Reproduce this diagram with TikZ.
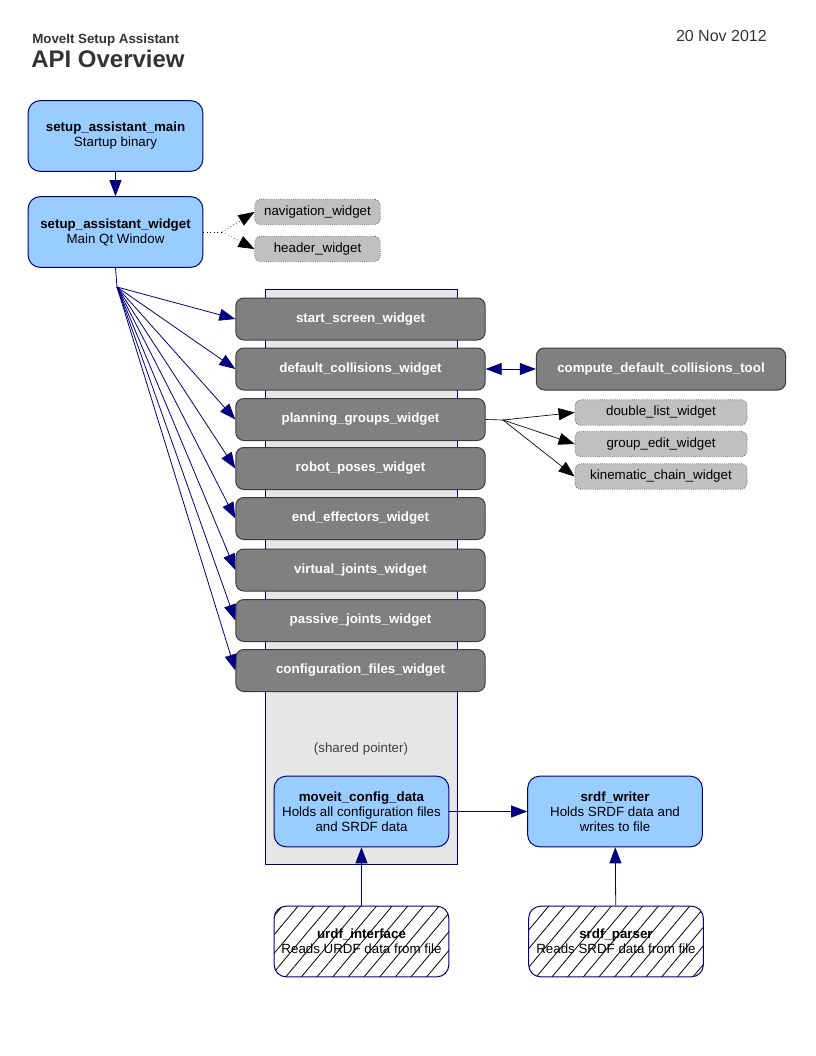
\documentclass[tikz,border=0pt]{standalone}
\usepackage{fontspec}
\setmainfont{Liberation Sans}
\usepackage{tikz}
\usetikzlibrary{arrows.meta,patterns.meta}
\definecolor{navy}{HTML}{000080}
\definecolor{boxblue}{HTML}{99CCFF}
\definecolor{wgray}{HTML}{808080}
\definecolor{wborder}{HTML}{3C3C3C}
\definecolor{lgray}{HTML}{C0C0C0}
\definecolor{ptrgray}{HTML}{E6E6E6}
\definecolor{titlegray}{HTML}{333333}

\begin{document}
\begin{tikzpicture}[
  x=0.75pt,y=-0.75pt,
  every node/.style={font=\fontsize{10}{11.2}\selectfont},
  tip/.style={-{Triangle[length=12pt,width=9pt]}},
  link/.style={tip,draw=navy,line width=0.6pt},
  sublink/.style={tip,draw=black,line width=0.5pt},
  bluebox/.style={draw=navy,fill=boxblue,line width=0.75pt,rounded corners=9pt,
    minimum width=131pt,minimum height=53pt,align=center},
  hatchbox/.style={draw=navy,line width=0.75pt,rounded corners=9pt,
    minimum width=131pt,minimum height=53pt,align=center,
    pattern={Lines[angle=50,distance=9pt,line width=0.6pt]}},
  widget/.style={draw=wborder,fill=wgray,line width=0.75pt,rounded corners=6pt,
    minimum width=187pt,minimum height=31.5pt,text=white,
    font=\fontsize{10}{11.2}\selectfont\bfseries},
  subwidget/.style={draw=black!60,densely dotted,fill=lgray,line width=0.6pt,
    rounded corners=4pt,minimum height=19pt}
]
\useasboundingbox (0,0) rectangle (816,1056);

% Titel
\node[anchor=base west,inner sep=0pt,text=titlegray,font=\fontsize{10}{12}\selectfont\bfseries]
  (subtitle) at (32,44) {MoveIt Setup Assistant};
\node[anchor=base west,inner sep=0pt,text=titlegray,font=\fontsize{18}{21}\selectfont\bfseries]
  (title) at (31,68) {API Overview};
\node[anchor=base east,inner sep=0pt,text=titlegray,font=\fontsize{12}{14}\selectfont]
  (date) at (767,42) {20 Nov 2012};

% Hauptprogramm
\node[bluebox] (main) at (115.5,136) {\textbf{setup\_assistant\_main}\\Startup binary};
\node[bluebox] (sawidget) at (115.5,232) {\textbf{setup\_assistant\_widget}\\Main Qt Window};
\draw[link] (main) -- (sawidget);

% Kopf- und Navigationsleiste
\node[subwidget,minimum width=94pt] (nav) at (317.5,212) {navigation\_widget};
\node[subwidget,minimum width=94pt] (header) at (317.5,249) {header\_widget};
\coordinate (navfork) at (222,232);
\draw[dotted,line width=0.6pt] (sawidget.east) -- (navfork);
\draw[sublink,dotted] (navfork) -- (nav.west);
\draw[sublink,dotted] (navfork) -- (header.west);

% Gemeinsamer Zeiger
\node[draw=navy,fill=ptrgray,line width=0.6pt,minimum width=144pt,minimum height=431.25pt]
  (shared) at (361,576.5) {};
\node[text=black!75] (sharedlbl) at (361,749) {(shared pointer)};

% Bildschirme
\coordinate (fan) at (117,287);
\draw[draw=navy,line width=0.6pt] (sawidget.south) -- (fan);
\foreach \nm/\txt/\y in {start/start\_screen\_widget/319,
    defcoll/default\_collisions\_widget/369,
    groups/planning\_groups\_widget/419.5,
    poses/robot\_poses\_widget/468.5,
    endeff/end\_effectors\_widget/518.5,
    vjoints/virtual\_joints\_widget/570,
    pjoints/passive\_joints\_widget/620.5,
    config/configuration\_files\_widget/670.5}{
  \node[widget] (\nm) at (360.5,\y) {\txt};
  \draw[link] (fan) -- (\nm.west);
}

% Kollisionen
\node[widget] (coltool) at (661,369) {compute\_default\_collisions\_tool};
\draw[link,{Triangle[length=12pt,width=9pt]}-{Triangle[length=12pt,width=9pt]}]
  (defcoll.east) -- (coltool.west);

% Planungsgruppen
\node[subwidget,minimum width=129pt] (dlist) at (661,412.5) {double\_list\_widget};
\node[subwidget,minimum width=129pt] (gedit) at (661,444) {group\_edit\_widget};
\node[subwidget,minimum width=129pt] (kchain) at (661,476.5) {kinematic\_chain\_widget};
\coordinate (groupfork) at (503,420);
\draw[line width=0.5pt] (groups.east) -- (groupfork);
\draw[sublink] (groupfork) -- (dlist.west);
\draw[sublink] (groupfork) -- (gedit.west);
\draw[sublink] (groupfork) -- (kchain.west);

% Daten
\node[bluebox] (cfgdata) at (361.5,811.5)
  {\textbf{moveit\_config\_data}\\Holds all configuration files\\and SRDF data};
\node[bluebox] (writer) at (615,811.5)
  {\textbf{srdf\_writer}\\Holds SRDF data and\\writes to file};
\draw[link] (cfgdata) -- (writer);

\node[hatchbox] (urdf) at (361.5,941.5)
  {\textbf{urdf\_interface}\\Reads URDF data from file};
\node[hatchbox] (parser) at (616,941.5)
  {\textbf{srdf\_parser}\\Reads SRDF data from file};
\draw[link] (urdf) -- (cfgdata);
\draw[link] (parser) -- (writer);
\end{tikzpicture}
\end{document}
